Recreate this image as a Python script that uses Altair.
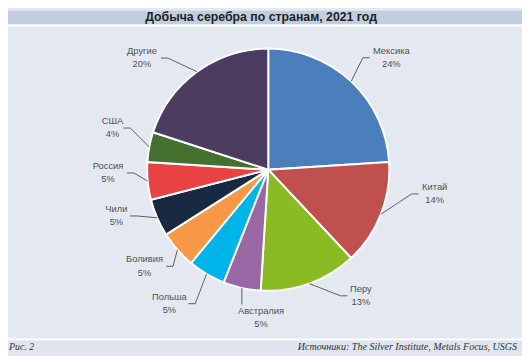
import altair as alt
import pandas as pd
import numpy as np

# ---- data ----
countries = ["Мексика", "Китай", "Перу", "Австралия", "Польша",
             "Боливия", "Чили", "Россия", "США", "Другие"]
shares = [24, 14, 13, 5, 5, 5, 5, 5, 4, 20]
colors = ["#4a7fbb", "#c0504e", "#8abb22", "#9a67a5", "#00b3e8",
          "#f79847", "#1a2942", "#e84342", "#44712f", "#4c3c60"]
title_text = "Добыча серебра по странам, 2021 год"
fig_text = "Рис. 2"
source_text = "Источники: The Silver Institute, Metals Focus, USGS"

# ---- layout constants ----
W, H = 522, 348
CX, CY, R = 264.3, 161.5, 123
LABEL_FONT = "Liberation Sans"
TXT = "#505050"
# manual label placement: elbow angle nudge (degrees) and elbow radius (pie radii)
label_shift_deg = [-3, -12, -10, 0, -2, -4, 4, 4, 6, -6]
label_radius = [1.21, 1.2, 1.2, 1.0, 1.26, 1.12, 1.15, 1.11, 1.19, 1.24]

df = pd.DataFrame({"idx": range(len(countries)), "country": countries, "share": shares})
df["pct"] = df["share"].astype(str) + "%"
total = df["share"].sum()
start = df["share"].cumsum() - df["share"]
mid = (start + df["share"] / 2) / total * 2 * np.pi
lab_ang = mid + np.radians(label_shift_deg)

px = 1.0 / R  # one pixel in pie units
bottom = np.abs(np.sin(mid)) < 0.25

lead_rows, text_rows = [], []
for i, row in df.iterrows():
    ex, ey = np.sin(mid[i]), -np.cos(mid[i])
    w = max(len(row["country"]), len(row["pct"])) * 5.4 * px
    if bottom[i]:
        bx, by = ex, ey + 17 * px
        pts = [(ex, ey), (bx, by)]
        tx = bx + 0.4 * w
        ny = by + 7 * px
        py = by + 20 * px
    else:
        rr = label_radius[i]
        bx, by = np.sin(lab_ang[i]) * rr, -np.cos(lab_ang[i]) * rr
        side = np.sign(np.sin(lab_ang[i]))
        hx = bx + side * 7 * px
        pts = [(ex, ey), (bx, by), (hx, by)]
        tx = hx + side * (3 * px + w / 2)
        ny = by - 7 * px
        py = by + 6.5 * px
    for k, (x, y) in enumerate(pts):
        lead_rows.append({"country": row["country"], "o": k, "x": x, "y": y})
    text_rows.append({"country": row["country"], "pct": row["pct"], "tx": tx, "ny": ny, "py": py})

lead = pd.DataFrame(lead_rows)
labels = pd.DataFrame(text_rows)

xs = alt.Scale(domain=[-CX / R, (W - CX) / R], range=[0, W])
ys = alt.Scale(domain=[-CY / R, (H - CY) / R], range=[0, H])

one = pd.DataFrame({"k": [0]})


def band(y0, y1, color):
    return alt.Chart(one).mark_rect(color=color).encode(
        x=alt.value(0), x2=alt.value(W), y=alt.value(y0), y2=alt.value(y1))


header = band(0, 14, "#c1cee0")
hline = band(14, 16, "#ffffff")
fline = band(333, 335, "#ffffff")
footer = band(335, H, "#dfe5ee")

pie = alt.Chart(df).mark_arc(outerRadius=R, stroke="white", strokeWidth=2).encode(
    theta=alt.Theta("share:Q", stack=True),
    color=alt.Color("country:N", scale=alt.Scale(domain=countries, range=colors), legend=None),
    order=alt.Order("idx:Q"),
    x=alt.value(CX), y=alt.value(CY),
)

leaders = alt.Chart(lead).mark_line(color="#3a3a3a", strokeWidth=0.8).encode(
    x=alt.X("x:Q", scale=xs, axis=None),
    y=alt.Y("y:Q", scale=ys, axis=None),
    detail="country:N",
    order="o:Q",
)

names = alt.Chart(labels).mark_text(font=LABEL_FONT, fontSize=9.5, color=TXT, align="center", baseline="middle").encode(
    x=alt.X("tx:Q", scale=xs, axis=None),
    y=alt.Y("ny:Q", scale=ys, axis=None),
    text="country:N",
)
pcts = alt.Chart(labels).mark_text(font=LABEL_FONT, fontSize=9.5, color=TXT, align="center", baseline="middle").encode(
    x=alt.X("tx:Q", scale=xs, axis=None),
    y=alt.Y("py:Q", scale=ys, axis=None),
    text="pct:N",
)

title = alt.Chart(one).mark_text(font=LABEL_FONT, fontSize=12.5, fontWeight="bold", color="#222222",
                                 align="center", baseline="middle").encode(
    x=alt.value(257), y=alt.value(6), text=alt.value(title_text))
fig_lbl = alt.Chart(one).mark_text(font="Liberation Serif", fontStyle="italic", fontSize=10, color="#333333",
                                   align="left", baseline="middle").encode(
    x=alt.value(1), y=alt.value(341.5), text=alt.value(fig_text))
src_lbl = alt.Chart(one).mark_text(font="Liberation Serif", fontStyle="italic", fontSize=10.2, color="#333333",
                                   align="right", baseline="middle").encode(
    x=alt.value(517), y=alt.value(341.5), text=alt.value(source_text))

chart = alt.layer(header, hline, fline, footer, pie, leaders, names, pcts, title, fig_lbl, src_lbl).properties(
    width=W, height=H, padding=0, background="#e4e9f1",
    autosize=alt.AutoSizeParams(type="none"),
).configure_view(stroke=None)

chart.save("out.html", embed_options={"renderer": "svg", "actions": False})
